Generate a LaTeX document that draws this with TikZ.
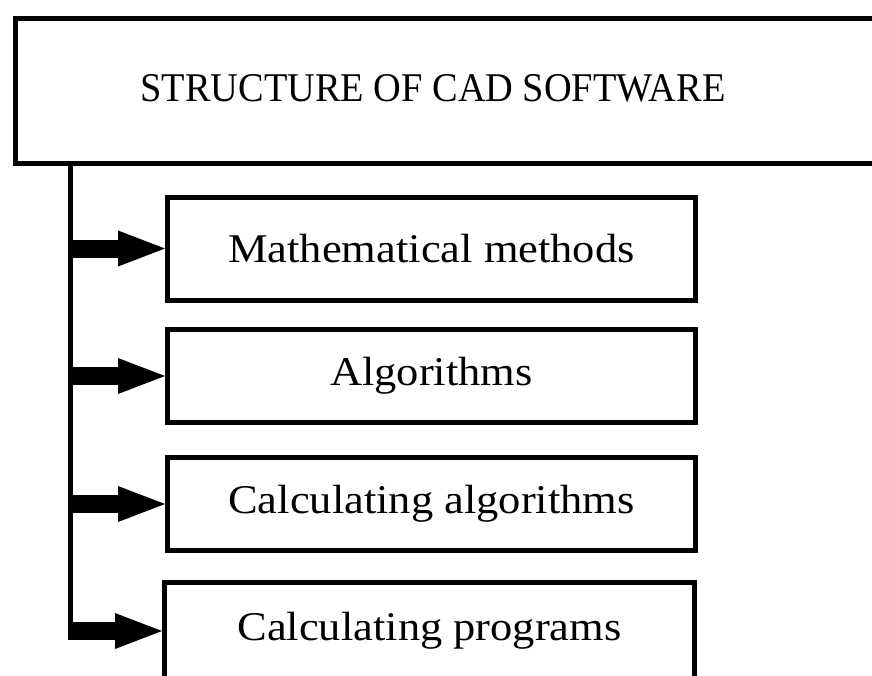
\documentclass[tikz,border=0pt]{standalone}
\usepackage{fontspec}
\setmainfont[FakeStretch=1.09]{Liberation Serif}
\newfontfamily\titlefont[FakeStretch=0.94]{Liberation Serif}
\usetikzlibrary{arrows.meta}
\tikzset{
  box/.style={draw=black, line width=5pt, fill=white, inner sep=0pt},
  label text/.style={font=\fontsize{40.8}{49}\selectfont, inner sep=0pt},
  feed/.style={line width=18pt, -{Triangle[length=47pt,width=36pt,line width=0pt]}},
  spine/.style={line width=5pt}
}
\begin{document}
\begin{tikzpicture}[x=1pt,y=-1pt]
\useasboundingbox (0,0) rectangle (872,675);
\fill[white] (0,0) rectangle (872,675);
\clip (0,0) rectangle (872,675);
% top box (extends past the right edge)
\node[box, anchor=north west, minimum width=887.5pt, minimum height=145pt] (top) at (12.5,16) {};
\node[label text, font=\titlefont\fontsize{40.8}{49}\selectfont] (title) at (433,88) {STRUCTURE OF CAD SOFTWARE};
% child boxes
\node[box, label text, minimum width=528pt, minimum height=103pt] (m1) at (431.5,248.5) {Mathematical methods};
\node[box, label text, minimum width=528pt, minimum height=93.5pt] (m2) at (431.5,376) {Algorithms};
\node[box, label text, minimum width=528pt, minimum height=93pt] (m3) at (431.5,504) {Calculating algorithms};
\node[box, label text, minimum width=530pt, minimum height=98pt] (m4) at (429.5,631) {Calculating programs};
% spine
\coordinate (s0) at (70.5,161);
\coordinate (s1) at (68,0);
\draw[spine] (s0) -- (s0 |- m4.west);
% arrows
\draw[feed] (s1 |- m1.west) -- (m1.west);
\draw[feed] (s1 |- m2.west) -- (m2.west);
\draw[feed] (s1 |- m3.west) -- (m3.west);
\draw[feed] (s1 |- m4.west) -- (m4.west);
\end{tikzpicture}
\end{document}
